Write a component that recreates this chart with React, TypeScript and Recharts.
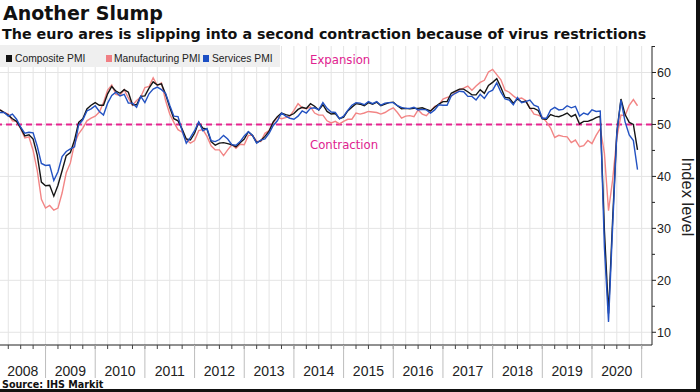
import React from 'react';
import { LineChart, Line, XAxis, YAxis, CartesianGrid, ReferenceLine } from 'recharts';

// Euro area PMI, monthly, Jan 2008 - Nov 2020
const composite = [
  52.8, 52.3, 51.8, 51.1, 50.6, 49.3, 47.8, 48.0, 47.2, 44.1, 38.9, 38.2,
  38.3, 36.2, 38.3, 41.1, 44.0, 44.6, 47.0, 50.4, 51.1, 53.0, 53.7, 54.2,
  53.7, 53.7, 55.9, 57.3, 56.4, 56.0, 56.7, 56.2, 53.8, 53.8, 55.4, 55.5,
  57.0, 58.2, 57.6, 57.8, 55.8, 53.3, 51.1, 50.7, 49.1, 47.2, 47.0, 48.3,
  50.4, 49.3, 49.1, 46.7, 46.0, 46.4, 46.5, 46.3, 46.1, 45.7, 46.5, 47.2,
  48.6, 47.9, 46.5, 46.9, 47.7, 48.7, 50.5, 51.5, 52.2, 51.9, 51.7, 52.1,
  52.9, 53.3, 53.1, 54.0, 53.5, 52.8, 53.8, 52.5, 52.0, 52.1, 51.1, 51.4,
  52.6, 53.3, 54.0, 53.9, 53.6, 54.2, 53.9, 54.3, 53.6, 53.9, 54.2, 54.3,
  53.6, 53.0, 53.1, 53.0, 53.1, 53.1, 53.2, 52.9, 52.6, 53.3, 53.9, 54.4,
  54.4, 56.0, 56.4, 56.8, 56.8, 56.3, 55.7, 55.7, 56.7, 56.0, 57.5, 58.1,
  58.8, 57.1, 55.2, 55.1, 54.1, 54.9, 54.3, 54.5, 53.1, 53.1, 52.7, 51.1,
  51.0, 51.9, 51.6, 51.5, 51.8, 52.2, 51.5, 51.9, 50.1, 50.6, 50.6, 50.9,
  51.3, 51.6, 29.7, 13.6, 31.9, 48.5, 54.9, 51.9, 50.4, 50.0, 45.1,
];

const manufacturing = [
  52.8, 52.3, 52.0, 50.7, 50.6, 49.2, 47.4, 47.6, 45.0, 41.1, 35.6, 33.9,
  34.4, 33.5, 33.9, 36.8, 40.7, 42.6, 46.3, 48.2, 49.3, 50.7, 51.2, 51.6,
  52.4, 54.2, 56.6, 57.6, 55.8, 55.6, 56.7, 55.1, 53.7, 54.6, 55.3, 57.1,
  57.3, 59.0, 57.5, 58.0, 54.6, 52.0, 50.4, 49.0, 48.5, 47.1, 46.4, 46.9,
  48.8, 49.0, 47.7, 45.9, 45.1, 45.1, 44.0, 45.1, 46.1, 45.4, 46.2, 46.1,
  47.9, 47.9, 46.8, 46.7, 48.3, 48.8, 50.3, 51.4, 51.1, 51.3, 51.6, 52.7,
  54.0, 53.2, 53.0, 53.4, 52.2, 51.8, 51.8, 50.7, 50.3, 50.6, 50.1, 50.6,
  51.0, 51.0, 52.2, 52.0, 52.2, 52.5, 52.4, 52.3, 52.0, 52.3, 52.8, 53.2,
  52.3, 51.2, 51.6, 51.7, 51.5, 52.8, 52.0, 51.7, 52.6, 53.5, 53.7, 54.9,
  55.2, 55.4, 56.2, 56.7, 57.0, 57.4, 56.6, 57.4, 58.1, 58.5, 60.1, 60.6,
  59.6, 58.6, 56.6, 56.2, 55.5, 54.9, 55.1, 54.6, 53.2, 52.0, 51.8, 51.4,
  50.5, 49.3, 47.5, 47.9, 47.7, 47.6, 46.5, 47.0, 45.7, 45.9, 46.9, 46.3,
  47.9, 49.2, 44.5, 33.4, 39.4, 47.4, 51.8, 51.7, 53.7, 54.8, 53.6,
];

const services = [
  52.3, 52.3, 51.6, 52.0, 51.0, 49.5, 48.3, 48.5, 48.4, 45.8, 42.5, 42.1,
  42.2, 39.2, 40.9, 43.8, 44.8, 45.3, 45.7, 49.9, 50.9, 52.6, 53.0, 53.6,
  52.5, 51.8, 54.1, 55.6, 56.2, 55.5, 55.8, 54.1, 54.1, 53.3, 55.4, 54.2,
  55.9, 56.8, 57.2, 56.7, 56.0, 53.7, 51.6, 51.5, 48.8, 46.4, 47.5, 48.8,
  50.5, 48.8, 49.2, 46.9, 46.7, 47.1, 47.9, 47.2, 46.1, 46.0, 46.7, 47.8,
  48.6, 47.9, 46.4, 47.0, 47.2, 48.3, 49.8, 50.7, 52.2, 51.6, 51.2, 51.0,
  51.6, 52.6, 52.2, 53.1, 53.2, 52.8, 54.2, 53.1, 52.4, 52.3, 51.1, 51.6,
  52.7, 53.7, 54.2, 54.1, 53.8, 54.4, 54.0, 54.4, 53.7, 54.1, 54.2, 54.2,
  53.6, 53.3, 53.1, 53.1, 53.3, 52.8, 52.9, 52.8, 52.2, 52.8, 53.8, 53.7,
  53.7, 55.5, 56.0, 56.4, 56.3, 55.4, 55.4, 54.7, 55.8, 55.0, 56.2, 56.6,
  58.0, 56.2, 54.9, 54.7, 53.8, 55.2, 54.2, 54.4, 54.7, 53.7, 53.4, 51.2,
  51.2, 52.8, 53.3, 52.8, 52.9, 53.6, 53.2, 53.5, 51.6, 52.2, 51.9, 52.8,
  52.5, 52.6, 26.4, 12.0, 30.5, 48.3, 54.7, 50.5, 48.0, 46.9, 41.3,
];

const yearLabels = ['2008', '2009', '2010', '2011', '2012', '2013', '2014', '2015', '2016', '2017', '2018', '2019', '2020'];
const yMajorTicks = [10, 20, 30, 40, 50, 60];
const yAllTicks = [10, 15, 20, 25, 30, 35, 40, 45, 50, 55, 60, 65];

// x value = months since start of 2008 (point at end of month)
const X_MIN = 1;
const X_MAX = 158.5;
const Y_MIN = 7.55;
const Y_MAX = 65.1;

const data = composite.map((c, i) => ({
  t: i + 1,
  composite: c,
  manufacturing: manufacturing[i],
  services: services[i],
}));

const quarterTicks: number[] = [];
for (let q = 3; q <= 156; q += 3) quarterTicks.push(q);

const labelTicks = yearLabels.map((label, k) => {
  const a = Math.max(12 * k, X_MIN);
  const b = Math.min(12 * k + 12, X_MAX);
  return { pos: (a + b) / 2, label };
});

const xTicks = Array.from(new Set([...quarterTicks, ...labelTicks.map((l) => l.pos)])).sort((a, b) => a - b);

const AXIS_FONT = '"Liberation Sans Narrow", "Liberation Sans", Arial, sans-serif';

const XTick = (props: any) => {
  const { x, y, payload } = props;
  const v = payload.value;
  const lab = labelTicks.find((l) => l.pos === v);
  return (
    <g>
      {v % 3 === 0 && <line x1={x} x2={x} y1={y} y2={y + 4} stroke="#444" strokeWidth={1} />}
      {v % 12 === 0 && <line x1={x} x2={x} y1={y} y2={y + 33} stroke="#bdbdbd" strokeWidth={1} />}
      {lab && (
        <text x={x} y={y + 31} textAnchor="middle" fontSize={14} fill="#222" fontFamily={AXIS_FONT}>
          {lab.label}
        </text>
      )}
    </g>
  );
};

const YTick = (props: any) => {
  const { x, y, payload } = props;
  const v = payload.value;
  const major = v % 10 === 0;
  return (
    <g>
      <line x1={x} x2={x + (major ? 4 : 3)} y1={y} y2={y} stroke="#222" strokeWidth={1} />
      {major && (
        <text x={x + 5} y={y} dy="0.36em" fontSize={12.5} fill="#222" fontFamily='"Liberation Sans", Arial, sans-serif'>
          {v}
        </text>
      )}
    </g>
  );
};

const LEGEND_FONT = '"Liberation Sans", Arial, sans-serif';
const NOTE_FONT = '"DejaVu Sans Condensed", "DejaVu Sans", sans-serif';

export default function App() {
  return (
    <div style={{ position: 'absolute', left: 0, top: 0, width: 700, height: 392, background: '#fff', overflow: 'hidden' }}>
      <LineChart width={700} height={392} data={data} margin={{ top: 46, right: 0, bottom: 0, left: 0 }}>
        <CartesianGrid
          stroke="#e4e4e4"
          strokeWidth={1}
          verticalValues={quarterTicks}
          horizontalValues={yMajorTicks}
        />
        <XAxis
          dataKey="t"
          type="number"
          domain={[X_MIN, X_MAX]}
          allowDataOverflow
          ticks={xTicks}
          interval={0}
          tickSize={0}
          tickMargin={0}
          tick={<XTick />}
          axisLine={{ stroke: '#222' }}
          height={47}
        />
        <YAxis
          orientation="right"
          type="number"
          domain={[Y_MIN, Y_MAX]}
          allowDataOverflow
          ticks={yAllTicks}
          interval={0}
          tickSize={0}
          tickMargin={0}
          tick={<YTick />}
          axisLine={{ stroke: '#222' }}
          width={48}
        />
        <ReferenceLine y={50} stroke="#e6258f" strokeWidth={2} strokeDasharray="6 4" />
        <Line type="linear" dataKey="manufacturing" stroke="#f28585" strokeWidth={1.4} dot={false} isAnimationActive={false} />
        <Line type="linear" dataKey="composite" stroke="#151515" strokeWidth={1.4} dot={false} isAnimationActive={false} />
        <Line type="linear" dataKey="services" stroke="#2352c2" strokeWidth={1.4} dot={false} isAnimationActive={false} />
      </LineChart>
      <svg width={700} height={392} style={{ position: 'absolute', left: 0, top: 0, pointerEvents: 'none' }}>
        <text x={3} y={20} fontSize={19} fontWeight={700} fontFamily='"DejaVu Sans", Verdana, sans-serif' fill="#111">
          Another Slump
        </text>
        <text x={2} y={39} fontSize={14.3} fontWeight={700} fontFamily='"DejaVu Sans", Verdana, sans-serif' fill="#111">
          The euro ares is slipping into a second contraction because of virus restrictions
        </text>
        <rect x={0} y={45} width={280} height={22} fill="#efefef" />
        <rect x={6} y={55} width={6} height={7} fill="#111" />
        <text x={15} y={62} fontSize={10.3} fontFamily={LEGEND_FONT} fill="#222">Composite PMI</text>
        <rect x={106} y={55} width={6} height={7} fill="#f07f84" />
        <text x={114} y={62} fontSize={10.3} fontFamily={LEGEND_FONT} fill="#222">Manufacturing PMI</text>
        <rect x={203} y={55} width={6} height={7} fill="#1c4fc4" />
        <text x={212} y={62} fontSize={10.3} fontFamily={LEGEND_FONT} fill="#222">Services PMI</text>
        <text x={310} y={64} fontSize={13} fontFamily={NOTE_FONT} fill="#e0228f">Expansion</text>
        <text x={310} y={149} fontSize={13} fontFamily={NOTE_FONT} fill="#e0228f">Contraction</text>
        <text
          x={688}
          y={197}
          fontSize={16.5}
          textAnchor="middle"
          dominantBaseline="central"
          transform="rotate(90 688 197)"
          fontFamily='"Liberation Sans", Arial, sans-serif'
          fill="#222"
        >
          Index level
        </text>
        <text x={2} y={388} fontSize={9.6} fontWeight={700} fontFamily='"DejaVu Sans", Verdana, sans-serif' fill="#111">
          Source: IHS Markit
        </text>
        <rect x={696} y={0} width={4} height={392} fill="#111" />
        <rect x={0} y={389} width={700} height={3} fill="#111" />
      </svg>
    </div>
  );
}
